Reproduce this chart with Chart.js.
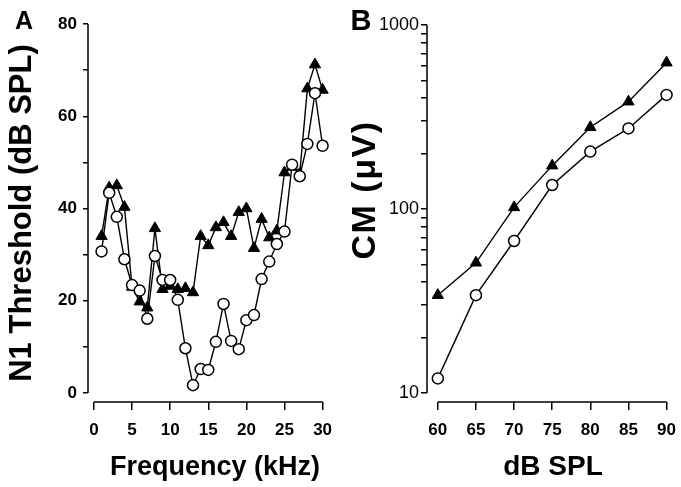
<!DOCTYPE html>
<html>
<head>
<meta charset="utf-8">
<script src="https://cdn.jsdelivr.net/npm/chart.js@4"></script>
<style>
    html, body { margin: 0; padding: 0; background: #fff; }
    #marco { position: relative; width: 681px; height: 487px; }
    canvas { position: absolute; top: 0; }
    #graficaA { left: 0; }
    #graficaB { left: 340px; }
</style>
</head>
<body>
<div id="marco">
    <canvas id="graficaA" width="340" height="487"></canvas>
    <canvas id="graficaB" width="341" height="487"></canvas>
</div>
<script>
// Panel A: umbral N1 contra frecuencia
const frecuencias = [1, 2, 3, 4, 5, 6, 7, 8, 9, 10, 11, 12, 13, 14, 15, 16, 17, 18, 19, 20, 21, 22, 23, 24, 25, 26, 27, 28, 29, 30];
const umbralTriangulos = [34, 44.5, 45, 40.3, 23, 19.8, 18.5, 35.7, 22.5, 23.2, 22.5, 22.7, 21.8, 34, 32, 35.9, 37, 34, 39.2, 40, 31.4, 37.7, 33.7, 35.2, 47.8, 49, 47.5, 66, 71.2, 65.7];
const umbralCirculos = [30.7, 43.4, 38.2, 29, 23.4, 22.2, 16.1, 29.7, 24.5, 24.5, 20.2, 9.7, 1.7, 5.2, 5, 11.1, 19.3, 11.3, 9.5, 15.8, 16.9, 24.7, 28.5, 32.3, 35, 49.5, 47, 54, 65, 53.6];
const ticksXA = [0, 5, 10, 15, 20, 25, 30];
const ticksYA = [0, 10, 20, 30, 40, 50, 60, 70, 80];
const etiquetasYA = [0, 20, 40, 60, 80];

// Panel B: CM contra dB SPL
const nivelesDb = [60, 65, 70, 75, 80, 85, 90];
const cmTriangulos = [34, 51, 102, 172, 278, 383, 624];
const cmCirculos = [12, 34, 67, 135, 205, 274, 417];
const ticksXB = [60, 65, 70, 75, 80, 85, 90];
const etiquetasYB = [10, 100, 1000];

const fuente = '"Liberation Sans", Arial, Helvetica, sans-serif';

// ticks menores del eje log: 10,20..90,100,200..1000
let ticksYB = [];
for (let d = 10; d < 1000; d *= 10) {
    for (let k = 1; k < 10; k++) ticksYB.push(d * k);
}
ticksYB.push(1000);

// Dibuja las líneas de los ejes separadas, como en la figura
const ejes = {
    id: 'ejes',
    beforeDatasetsDraw(chart, args, o) {
        const ctx = chart.ctx;
        const x = chart.scales.x, y = chart.scales.y;
        const izq = chart.chartArea.left, abajo = chart.chartArea.bottom;
        ctx.save();
        ctx.strokeStyle = '#000';
        ctx.lineWidth = 1.5;
        ctx.beginPath();
        ctx.moveTo(izq, y.getPixelForValue(o.y[0]));
        ctx.lineTo(izq, y.getPixelForValue(o.y[1]));
        ctx.moveTo(x.getPixelForValue(o.x[0]), abajo);
        ctx.lineTo(x.getPixelForValue(o.x[1]), abajo);
        ctx.stroke();
        ctx.restore();
    }
};

// Títulos y letras de panel
const textos = {
    id: 'textos',
    afterDraw(chart, args, o) {
        const ctx = chart.ctx;
        o.items.forEach(t => {
            ctx.save();
            ctx.font = t.font;
            ctx.fillStyle = '#000';
            ctx.textAlign = 'center';
            ctx.textBaseline = 'middle';
            if ('letterSpacing' in ctx) ctx.letterSpacing = (t.ls || 0) + 'px';
            ctx.translate(t.x, t.y);
            if (t.rot) ctx.rotate(t.rot);
            ctx.fillText(t.text, 0, 0);
            ctx.restore();
        });
    }
};

function serie(datos, estilo) {
    const circulo = estilo === 'circle';
    return {
        data: datos,
        borderColor: '#000',
        borderWidth: 1.4,
        backgroundColor: circulo ? '#fff' : '#000',
        pointStyle: estilo,
        pointRadius: circulo ? 5.5 : 6.5,
        pointBorderWidth: circulo ? 1.5 : 1,
        pointBorderColor: '#000',
        pointBackgroundColor: circulo ? '#fff' : '#000',
        tension: 0,
        clip: false
    };
}

function rejilla(largo) {
    return { display: true, drawOnChartArea: false, drawTicks: true, tickLength: largo, color: '#000', lineWidth: 1.5 };
}

function fijar(ancho, alto) {
    return function (s) {
        if (ancho) s.width = ancho;
        if (alto) s.height = alto;
        s.paddingLeft = 0; s.paddingRight = 0; s.paddingTop = 0; s.paddingBottom = 0;
    };
}

new Chart(document.getElementById('graficaA'), {
    type: 'line',
    data: {
        labels: frecuencias,
        datasets: [
            serie(frecuencias.map((f, i) => ({ x: f, y: umbralCirculos[i] })), 'circle'),
            serie(frecuencias.map((f, i) => ({ x: f, y: umbralTriangulos[i] })), 'triangle')
        ]
    },
    options: {
        responsive: false,
        animation: false,
        layout: { padding: { left: 0, right: 4, top: 24, bottom: 0 } },
        plugins: {
            legend: { display: false },
            tooltip: { enabled: false },
            ejes: { x: [0, 30], y: [0, 80] },
            textos: {
                items: [
                    { text: 'A', x: 24, y: 22, font: 'bold 25px ' + fuente },
                    { text: 'N1 Threshold (dB SPL)', x: 22, y: 213, rot: -Math.PI / 2, font: 'bold 31px ' + fuente },
                    { text: 'Frequency (kHz)', x: 215, y: 468, font: 'bold 27px ' + fuente }
                ]
            }
        },
        scales: {
            x: {
                type: 'linear', min: -0.78, max: 31.3,
                grid: rejilla(8),
                border: { display: false },
                afterFit: fijar(0, 85),
                afterBuildTicks: s => { s.ticks = ticksXA.map(v => ({ value: v })); },
                ticks: { color: '#000', padding: 10, maxRotation: 0, autoSkip: false, font: { family: fuente, size: 17, weight: 'bold' } }
            },
            y: {
                type: 'linear', min: -1.95, max: 80,
                grid: rejilla(5),
                border: { display: false },
                afterFit: fijar(88, 0),
                afterBuildTicks: s => { s.ticks = ticksYA.map(v => ({ value: v })); },
                ticks: {
                    color: '#000', padding: 6, autoSkip: false,
                    font: { family: fuente, size: 17, weight: 'bold' },
                    callback: v => etiquetasYA.includes(v) ? String(v) : ''
                }
            }
        }
    },
    plugins: [ejes, textos]
});

new Chart(document.getElementById('graficaB'), {
    type: 'line',
    data: {
        labels: nivelesDb,
        datasets: [
            serie(nivelesDb.map((d, i) => ({ x: d, y: cmCirculos[i] })), 'circle'),
            serie(nivelesDb.map((d, i) => ({ x: d, y: cmTriangulos[i] })), 'triangle')
        ]
    },
    options: {
        responsive: false,
        animation: false,
        layout: { padding: { left: 0, right: 4, top: 25, bottom: 0 } },
        plugins: {
            legend: { display: false },
            tooltip: { enabled: false },
            ejes: { x: [60, 90], y: [10, 1000] },
            textos: {
                items: [
                    { text: 'B', x: 21, y: 22, font: 'bold 29px ' + fuente },
                    { text: 'CM (μV)', x: 26, y: 190, rot: -Math.PI / 2, font: 'bold 34px ' + fuente, ls: 1.5 },
                    { text: 'dB SPL', x: 213, y: 467, font: 'bold 28px ' + fuente }
                ]
            }
        },
        scales: {
            x: {
                type: 'linear', min: 58.58, max: 90.91,
                grid: rejilla(8),
                border: { display: false },
                afterFit: fijar(0, 85),
                afterBuildTicks: s => { s.ticks = ticksXB.map(v => ({ value: v })); },
                ticks: { color: '#000', padding: 10, maxRotation: 0, autoSkip: false, font: { family: fuente, size: 17, weight: 'bold' } }
            },
            y: {
                type: 'logarithmic', min: 8.93, max: 1000,
                grid: rejilla(6),
                border: { display: false },
                afterFit: fijar(87, 0),
                afterBuildTicks: s => { s.ticks = ticksYB.map(v => ({ value: v })); },
                ticks: {
                    color: '#000', padding: 2, autoSkip: false,
                    font: { family: fuente, size: 18 },
                    callback: v => etiquetasYB.includes(v) ? String(v) : ''
                }
            }
        }
    },
    plugins: [ejes, textos]
});
</script>
</body>
</html>
